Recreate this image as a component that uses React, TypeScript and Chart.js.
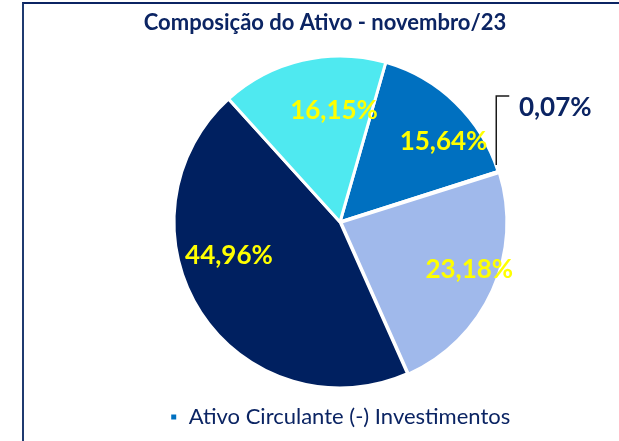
import React, { useEffect, useRef } from 'react';
import { Chart, registerables } from 'chart.js';

Chart.register(...registerables);

const titleText = 'Composição do Ativo - novembro/23';
const categories = [
  'Ativo Circulante (-) Investimentos',
  'Realizável a Longo Prazo',
  'Investimentos',
  'Imobilizado',
  'Intangível',
];
const values = [15.64, 0.07, 23.18, 44.96, 16.15];
const sliceColors = ['#0070C0', '#DCE4F5', '#A0B9EB', '#002060', '#4FE9F0'];

// label placement style: angle shift (deg) from slice mid, fraction of radius
const labelPlacement = [
  { shift: 8, f: 0.79 },
  null,
  { shift: -4, f: 0.83 },
  { shift: 16, f: 0.7 },
  { shift: 10, f: 0.67 },
];

const fmt = (v: number) => v.toFixed(2).replace('.', ',') + '%';

const NAVY = '#0B2463';

const labelsPlugin = {
  id: 'customLabels',
  afterDatasetsDraw(chart: any) {
    const ctx = chart.ctx;
    const meta = chart.getDatasetMeta(0);
    ctx.save();
    ctx.font = 'bold 26px Lato';
    ctx.textAlign = 'center';
    ctx.textBaseline = 'middle';
    meta.data.forEach((arc: any, i: number) => {
      const p = labelPlacement[i];
      const mid = (arc.startAngle + arc.endAngle) / 2;
      const r = arc.outerRadius;
      if (p) {
        const a = mid + (p.shift * Math.PI) / 180;
        const x = arc.x + Math.cos(a) * r * p.f;
        const y = arc.y + Math.sin(a) * r * p.f;
        ctx.fillStyle = '#FFFF00';
        ctx.fillText(fmt(values[i]), x, y);
      } else {
        const ex = arc.x + Math.cos(mid) * r;
        const ey = arc.y + Math.sin(mid) * r;
        const lineX = ex - 2;
        const bottom = ey - 7;
        const top = ey - 76;
        ctx.strokeStyle = '#1a1a1a';
        ctx.lineWidth = 1.5;
        ctx.beginPath();
        ctx.moveTo(lineX, bottom);
        ctx.lineTo(lineX, top);
        ctx.lineTo(lineX + 13, top);
        ctx.stroke();
        ctx.fillStyle = NAVY;
        ctx.fillText(fmt(values[i]), ex + 57, ey - 64);
      }
    });
    ctx.font = 'bold 22px Lato';
    ctx.fillStyle = NAVY;
    ctx.fillText(titleText, 325, 23);
    ctx.restore();
  },
};

export default function App() {
  const ref = useRef<HTMLCanvasElement>(null);
  useEffect(() => {
    if (!ref.current) return;
    const chart = new Chart(ref.current, {
      type: 'pie',
      data: {
        labels: categories,
        datasets: [
          {
            data: values,
            backgroundColor: sliceColors,
            borderColor: '#FFFFFF',
            borderWidth: 3,
            offset: [0, 0, 4, 0, 0],
          },
        ],
      },
      options: {
        responsive: false,
        animation: false,
        rotation: 16,
        radius: 166,
        layout: { padding: { left: 61, right: 0, top: 48, bottom: 3 } },
        plugins: {
          title: { display: false },
          tooltip: { enabled: false },
          legend: {
            display: true,
            position: 'bottom',
            labels: {
              filter: (item: any) => item.index === 0,
              boxWidth: 8,
              boxHeight: 8,
              padding: 10,
              color: NAVY,
              font: { family: 'Lato', size: 22 },
            },
          },
        },
      },
      plugins: [labelsPlugin],
    });
    return () => chart.destroy();
  }, []);

  return (
    <div style={{ position: 'fixed', left: 0, top: 0, width: 619, height: 441, background: '#fff', overflow: 'hidden' }}>
      <div
        style={{
          position: 'absolute',
          left: 22,
          top: 2,
          width: 700,
          height: 500,
          borderLeft: '2px solid #1F3A70',
          borderTop: '2px solid #0B2463',
        }}
      />
      <canvas ref={ref} width={619} height={441} style={{ position: 'absolute', left: 0, top: 0, display: 'block' }} />
    </div>
  );
}
